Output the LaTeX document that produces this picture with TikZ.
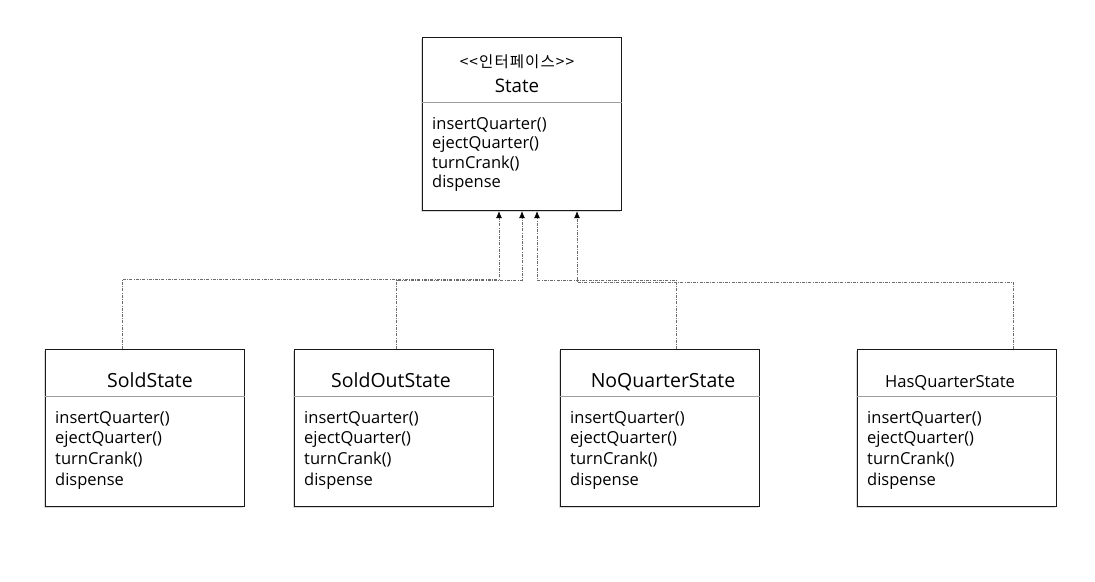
\documentclass[tikz,border=0pt]{standalone}
\usepackage{fontspec}
\setmainfont{Open Sans}
\newfontfamily\cjk[LetterSpace=7]{Noto Sans CJK KR}
\usetikzlibrary{arrows.meta, shadows}
\tikzset{every picture/.style={x=1pt, y=-1pt}}
\tikzset{
    classbox/.style={draw=black!90, line width=1.2pt, fill=white, anchor=north west,
        inner sep=0pt, minimum width=199pt,
        drop shadow={shadow xshift=-1.3pt, shadow yshift=-1.3pt, opacity=0.3}},
    divider/.style={draw=gray!75, line width=0.6pt},
    classname/.style={anchor=base, inner sep=0pt},
    method/.style={anchor=base west, inner sep=0pt, font=\fontsize{16.5}{20}\selectfont},
    realize/.style={draw=gray!85!black, line width=0.6pt,
        dash pattern=on 3pt off 1.3pt on 0.8pt off 1.3pt,
        -{Latex[length=7pt, width=6pt, black]}},
}

\begin{document}
\begin{tikzpicture}
    \useasboundingbox (0,0) rectangle (1095,581);

    % Interface
    \node[classbox, minimum height=173pt] (state) at (422,37) {};
    \draw[divider] (state.west |- 0,102) -- (state.east |- 0,102);
    \node[inner sep=0pt, font=\cjk\fontsize{15.5}{18}\selectfont] (state-st) at (517,62) {<<인터페이스>>};
    \node[classname, font=\fontsize{18.7}{22}\selectfont] (state-title) at (517,92) {State};
    \foreach \m [count=\i] in {insertQuarter(),ejectQuarter(),turnCrank(),dispense} {
        \node[method] (state-m\i) at (432,{129+19.5*(\i-1)}) {\m};
    }

    % Concrete states
    \foreach \name/\x/\title/\tx/\size in {sold/45/SoldState/150/19.5,
        soldout/294/SoldOutState/391/19.5, noquarter/560/NoQuarterState/663/19.5,
        hasquarter/857/HasQuarterState/950/16.6} {
        \node[classbox, minimum height=157pt] (\name) at (\x,349) {};
        \draw[divider] (\name.west |- 0,396) -- (\name.east |- 0,396);
        \node[classname, font=\fontsize{\size}{22}\selectfont] (\name-title) at (\tx,387) {\title};
        \foreach \m [count=\i] in {insertQuarter(),ejectQuarter(),turnCrank(),dispense} {
            \node[method] (\name-m\i) at (\x+10,{423+20.7*(\i-1)}) {\m};
        }
    }

    % Junctions under the interface
    \coordinate (j-sold) at (499,279);
    \coordinate (j-soldout) at (522,280);
    \coordinate (j-noquarter) at (537,280);
    \coordinate (j-hasquarter) at (577,282);

    % Realization links
    \draw[realize] ([xshift=-22.5pt]sold.north) |- (j-sold) -- (j-sold |- state.south);
    \draw[realize] ([xshift=2.5pt]soldout.north) |- (j-soldout) -- (j-soldout |- state.south);
    \draw[realize] ([xshift=16pt]noquarter.north) |- (j-noquarter) -- (j-noquarter |- state.south);
    \draw[realize] ([xshift=56pt]hasquarter.north) |- (j-hasquarter) -- (j-hasquarter |- state.south);
\end{tikzpicture}
\end{document}
